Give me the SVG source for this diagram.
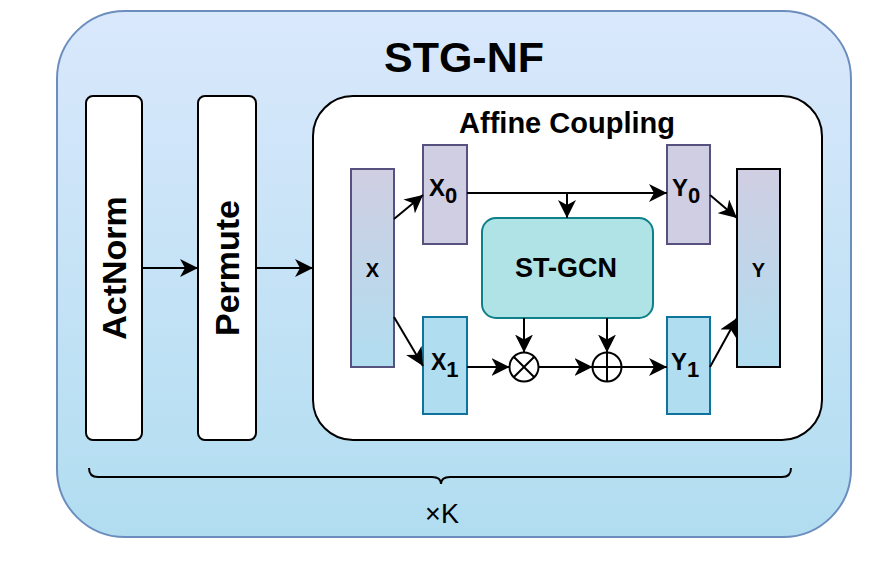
<svg xmlns="http://www.w3.org/2000/svg" width="894" height="579" viewBox="0 0 894 579">
<defs>
<linearGradient id="gOuter" x1="0" y1="0" x2="0" y2="1"><stop offset="0" stop-color="#dae8fc"/><stop offset="1" stop-color="#b1ddf0"/></linearGradient>
<linearGradient id="gXY" x1="0" y1="0" x2="0" y2="1"><stop offset="0" stop-color="#d0cee2"/><stop offset="1" stop-color="#b1ddf0"/></linearGradient>
<marker id="arr" markerUnits="userSpaceOnUse" markerWidth="20" markerHeight="18" refX="18" refY="9" orient="auto"><path d="M0,0 L18,9 L0,18 L5,9 Z" fill="#000"/></marker>
<style>
text{font-family:"Liberation Sans",Arial,sans-serif;fill:#000}
.b{font-weight:bold}
.wb{fill:#fff;stroke:#000;stroke-width:2}
.lav{fill:#d0cee2;stroke:#56517e;stroke-width:2}
.blu{fill:#b1ddf0;stroke:#10739e;stroke-width:2}
.c{fill:none;stroke:#000;stroke-width:2}
.ca{fill:none;stroke:#000;stroke-width:2;marker-end:url(#arr)}
</style>
</defs>
<g id="outer">
<rect x="57" y="11" width="794" height="526" rx="68" fill="url(#gOuter)" stroke="#6c8ebf" stroke-width="2"/>
<text x="464" y="72" text-anchor="middle" class="b" font-size="43">STG-NF</text>
</g>
<g id="actnorm">
<rect x="86" y="96" width="56" height="344" rx="7" class="wb"/>
<text transform="translate(126,268) rotate(-90)" text-anchor="middle" class="b" font-size="34">ActNorm</text>
</g>
<g id="permute">
<rect x="198" y="96" width="58" height="344" rx="7" class="wb"/>
<text transform="translate(239,268) rotate(-90)" text-anchor="middle" class="b" font-size="34">Permute</text>
</g>
<g id="affine">
<rect x="313" y="96" width="509" height="344" rx="40" class="wb"/>
<text x="567" y="133" text-anchor="middle" class="b" font-size="29">Affine Coupling</text>
</g>
<g id="x">
<rect x="351" y="169" width="43" height="198" fill="url(#gXY)" stroke="#56517e" stroke-width="2"/>
<text x="372.5" y="277" text-anchor="middle" class="b" font-size="20">X</text>
</g>
<g id="x0">
<rect x="423" y="145" width="44" height="99" class="lav"/>
<text x="429" y="196" class="b" font-size="24">X<tspan font-size="22" dy="7">0</tspan></text>
</g>
<g id="x1">
<rect x="423" y="317" width="44" height="97" class="blu"/>
<text x="431" y="370" class="b" font-size="23">X<tspan font-size="22" dy="7">1</tspan></text>
</g>
<g id="stgcn">
<rect x="482" y="218" width="171" height="100" rx="14" fill="#b0e3e6" stroke="#0e8088" stroke-width="2"/>
<text x="566" y="277" text-anchor="middle" class="b" font-size="27">ST-GCN</text>
</g>
<g id="y0">
<rect x="667" y="145" width="43" height="99" class="lav"/>
<text x="672" y="196" class="b" font-size="24">Y<tspan font-size="22" dy="7">0</tspan></text>
</g>
<g id="y1">
<rect x="667" y="317" width="43" height="97" class="blu"/>
<text x="671" y="370" class="b" font-size="24">Y<tspan font-size="22" dy="7">1</tspan></text>
</g>
<g id="y">
<rect x="737" y="169" width="43" height="198" fill="url(#gXY)" stroke="#000" stroke-width="2"/>
<text x="758.5" y="277" text-anchor="middle" class="b" font-size="20">Y</text>
</g>
<g id="otimes">
<circle cx="524" cy="367" r="14.5" class="wb"/>
<path d="M513.7,356.7 L534.3,377.3 M534.3,356.7 L513.7,377.3" class="c"/>
</g>
<g id="oplus">
<circle cx="607" cy="367" r="14.5" class="wb"/>
<path d="M592.5,367 H621.5 M607,352.5 V381.5" class="c"/>
</g>
<g id="brace">
<path d="M89,468 Q89,477 98,477 L432,477 Q441,477 441,484 Q441,477 450,477 L782,477 Q791,477 791,468" class="c"/>
<text x="442" y="523" text-anchor="middle" font-size="27">×K</text>
</g>
<g id="connectors">
<path d="M142,268 H198" class="ca"/>
<path d="M256,268 H313" class="ca"/>
<path d="M394,219 L423,195" class="ca"/>
<path d="M394,317 L423,366" class="ca"/>
<path d="M467,193 H667" class="ca"/>
<path d="M567,193 V218" class="ca"/>
<path d="M524,318 V352.5" class="ca"/>
<path d="M607,318 V352.5" class="ca"/>
<path d="M467,367 H509.5" class="ca"/>
<path d="M538.5,367 H592.5" class="ca"/>
<path d="M621.5,367 H667" class="ca"/>
<path d="M710,195 L737,218" class="ca"/>
<path d="M710,367 L737,318" class="ca"/>
</g>
</svg>
